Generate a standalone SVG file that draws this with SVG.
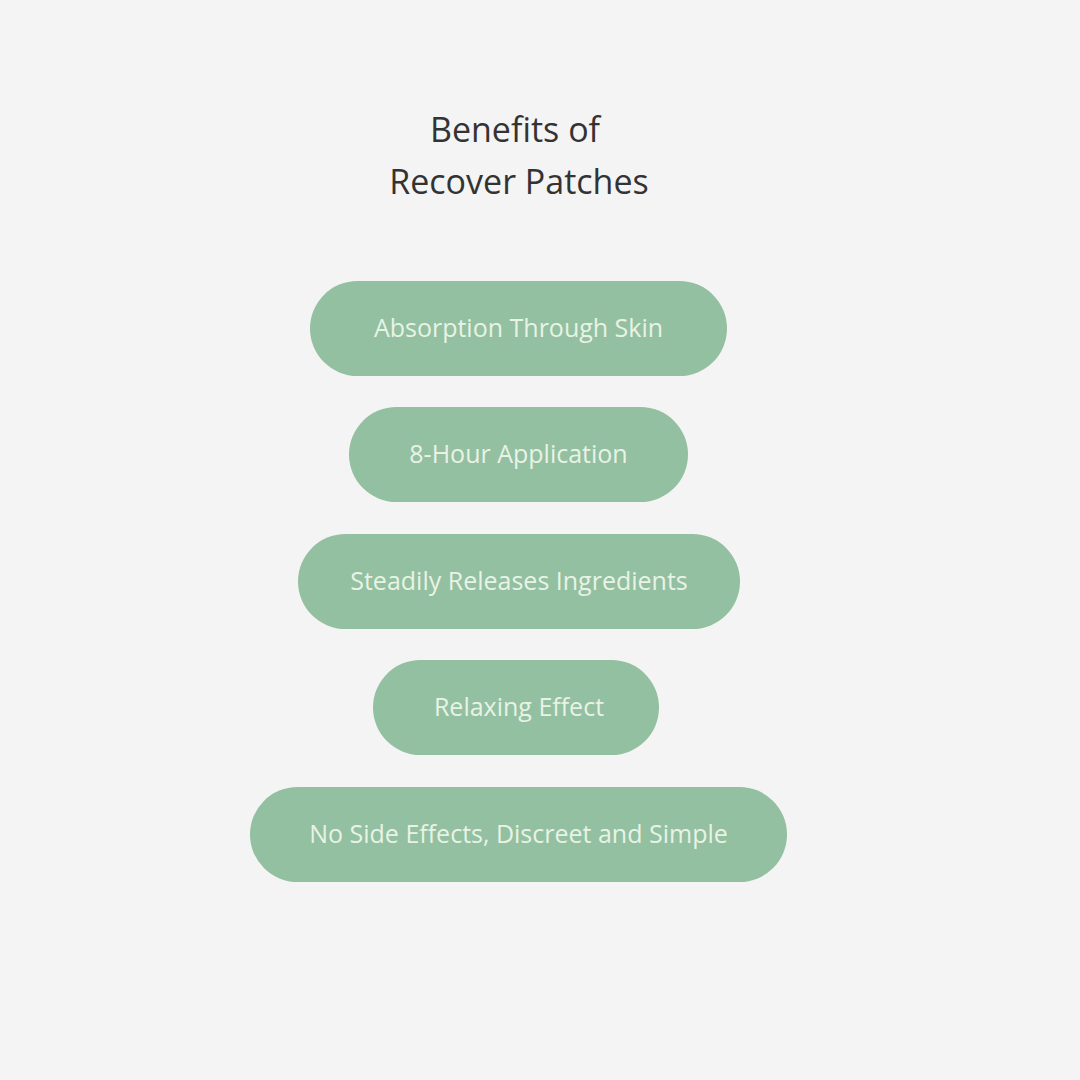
<svg xmlns="http://www.w3.org/2000/svg" width="1080" height="1080" viewBox="0 0 1080 1080">
<style>
.pill{fill:#93c0a0}
.lbl{font-family:"Open Sans","DejaVu Sans",sans-serif;font-size:25px;fill:#e8f3e6;text-anchor:middle}
.title{font-family:"Open Sans","DejaVu Sans",sans-serif;font-size:34px;fill:#333333;text-anchor:middle}
</style>
<rect width="1080" height="1080" fill="#f4f4f4"/>
<g id="title"><text class="title" x="515" y="142">Benefits of</text><text class="title" x="519" y="194">Recover Patches</text></g>
<g id="n1"><rect class="pill" x="310" y="281" width="417" height="95" rx="47.5"/><text class="lbl" x="518.5" y="337">Absorption Through Skin</text></g>
<g id="n2"><rect class="pill" x="349" y="407" width="339" height="95" rx="47.5"/><text class="lbl" x="518.5" y="463">8-Hour Application</text></g>
<g id="n3"><rect class="pill" x="298" y="534" width="442" height="95" rx="47.5"/><text class="lbl" x="519" y="590">Steadily Releases Ingredients</text></g>
<g id="n4"><rect class="pill" x="373" y="660" width="286" height="95" rx="47.5"/><text class="lbl" x="519" y="716">Relaxing Effect</text></g>
<g id="n5"><rect class="pill" x="250" y="787" width="537" height="95" rx="47.5"/><text class="lbl" x="518.5" y="843">No Side Effects, Discreet and Simple</text></g>
<g id="connectors"/>
</svg>
